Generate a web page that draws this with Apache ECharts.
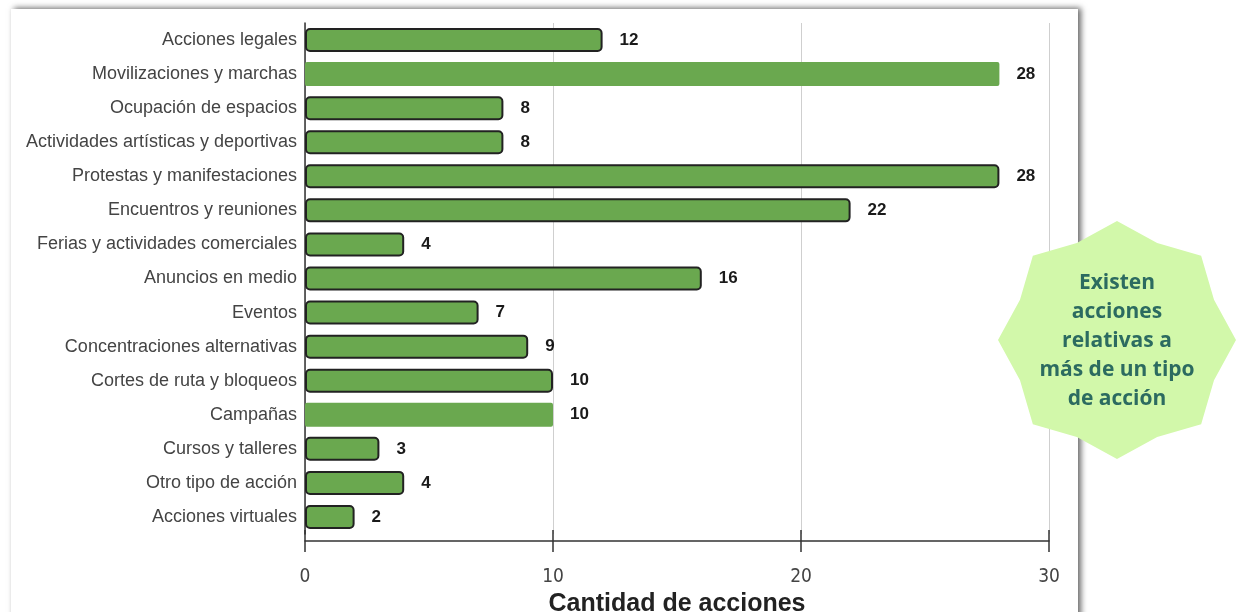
<!DOCTYPE html>
<html>
<head>
<meta charset="utf-8">
<script src="https://cdn.jsdelivr.net/npm/echarts@6/dist/echarts.min.js"></script>
<style>
  html, body { margin: 0; padding: 0; background: #fff; }
  #card {
    position: absolute; left: 11px; top: 9px; width: 1067px; height: 640px;
    background: #fff;
    box-shadow: 3px -1px 6px rgba(0, 0, 0, 0.6);
  }
  #chart { position: absolute; left: 0; top: 0; width: 1239px; height: 612px; }
</style>
</head>
<body>
<div id="card"></div>
<div id="chart"></div>
<script>
// categories, top to bottom
const categories = [
  'Acciones legales',
  'Movilizaciones y marchas',
  'Ocupación de espacios',
  'Actividades artísticas y deportivas',
  'Protestas y manifestaciones',
  'Encuentros y reuniones',
  'Ferias y actividades comerciales',
  'Anuncios en medio',
  'Eventos',
  'Concentraciones alternativas',
  'Cortes de ruta y bloqueos',
  'Campañas',
  'Cursos y talleres',
  'Otro tipo de acción',
  'Acciones virtuales'
];
const values = [12, 28, 8, 8, 28, 22, 4, 16, 7, 9, 10, 10, 3, 4, 2];
const xTicks = [0, 10, 20, 30];
const axisTitle = 'Cantidad de acciones';
const noteLines = ['Existen', 'acciones', 'relativas a', 'más de un tipo', 'de acción'];

// bars drawn without the dark outline in the original
const plainBars = ['Movilizaciones y marchas', 'Campañas'];

const barGreen = '#6aa84f';
const chart = echarts.init(document.getElementById('chart'), null, { renderer: 'canvas' });

// starburst for the side note
const starCx = 1117, starCy = 340, rOut = 119, rIn = 105;
const starPts = [];
for (let i = 0; i < 16; i++) {
  const a = -Math.PI / 2 + i * Math.PI / 8;
  const r = i % 2 === 0 ? rOut : rIn;
  starPts.push([starCx + r * Math.cos(a), starCy + r * Math.sin(a)]);
}

const xMin = xTicks[0], xMax = xTicks[xTicks.length - 1], xStep = xTicks[1] - xTicks[0];

const option = {
  backgroundColor: 'transparent',
  animation: false,
  grid: { left: 305, right: 190, top: 23, bottom: 78, outerBoundsMode: 'none', containLabel: false },
  xAxis: [
    {
      type: 'value',
      min: xMin, max: xMax, interval: xStep,
      position: 'bottom',
      offset: 7,
      axisLine: { show: true, lineStyle: { color: '#333', width: 1.5 } },
      axisTick: { show: true, length: 11, lineStyle: { color: '#333', width: 1.5 } },
      axisLabel: {
        margin: 27, color: '#444', fontSize: 19,
        fontFamily: '"Liberation Sans Narrow", "DejaVu Sans Condensed", sans-serif'
      },
      splitLine: { show: true, lineStyle: { color: '#cfcfcf', width: 1 } },
      name: axisTitle,
      nameLocation: 'middle',
      nameGap: 45,
      nameTextStyle: {
        color: '#222', fontSize: 25, fontWeight: 'bold',
        fontFamily: '"Liberation Sans", Arial, sans-serif'
      }
    },
    {
      type: 'value',
      min: xMin, max: xMax, interval: xStep,
      position: 'bottom',
      offset: 7,
      axisLine: { show: false },
      axisTick: { show: true, inside: true, length: 11, lineStyle: { color: '#333', width: 1.5 } },
      axisLabel: { show: false },
      splitLine: { show: false }
    }
  ],
  yAxis: {
    type: 'category',
    inverse: true,
    data: categories,
    axisLine: { show: true, lineStyle: { color: '#333', width: 1.5 } },
    axisTick: { show: false },
    axisLabel: {
      margin: 8, color: '#444', fontSize: 18,
      fontFamily: '"Liberation Sans", Arial, sans-serif'
    }
  },
  series: [{
    type: 'bar',
    xAxisIndex: 0,
    barWidth: 24,
    data: values.map((v, i) => {
      const plain = plainBars.includes(categories[i]);
      return {
        value: v,
        itemStyle: plain
          ? { color: barGreen, borderWidth: 0, borderRadius: 2 }
          : { color: barGreen, borderColor: '#222', borderWidth: 2, borderRadius: 4 }
      };
    }),
    label: {
      show: true,
      position: 'right',
      distance: 17,
      color: '#1a1a1a',
      fontSize: 17,
      fontWeight: 'bold',
      fontFamily: '"Liberation Sans", Arial, sans-serif'
    }
  }],
  graphic: [
    {
      type: 'polygon',
      z: 100,
      shape: { points: starPts },
      style: { fill: '#d2f8aa' }
    },
    {
      type: 'text',
      z: 101,
      x: starCx,
      y: starCy + 1,
      style: {
        text: noteLines.join('\n'),
        align: 'center',
        verticalAlign: 'middle',
        fill: '#2c6b60',
        font: 'bold 21px "Open Sans", Lato, sans-serif',
        lineHeight: 29
      }
    }
  ]
};

chart.setOption(option);
</script>
</body>
</html>
